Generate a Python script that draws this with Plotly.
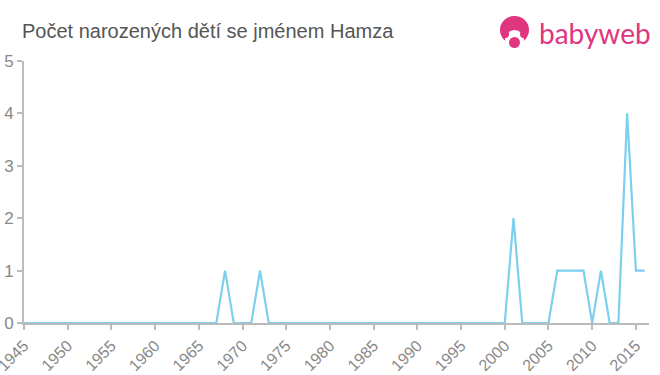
import plotly.graph_objects as go

years = list(range(1945, 2017))
counts_nonzero = {1968: 1, 1972: 1, 2001: 2, 2006: 1, 2007: 1, 2008: 1, 2009: 1,
                  2011: 1, 2014: 4, 2015: 1, 2016: 1}
counts = [counts_nonzero.get(y, 0) for y in years]
x_ticks = list(range(1945, 2016, 5))
y_ticks = [0, 1, 2, 3, 4, 5]
title_text = "Počet narozených dětí se jménem Hamza"
logo_text = "babyweb"

W, H = 660, 375
L, R, T, B = 24, 11, 61, 52
pw, ph = W - L - R, H - T - B


def px(x):
    return (x - L) / pw


def py(y):
    return (H - B - y) / ph


fig = go.Figure()
fig.add_trace(go.Scatter(x=years, y=counts, mode="lines",
                         line=dict(color="#7ccfed", width=2.2),
                         hoverinfo="x+y", showlegend=False))

pink = "#e0357f"
shapes = [
    dict(type="circle", xref="paper", yref="paper", x0=px(500), x1=px(529), y0=py(16), y1=py(44),
         fillcolor=pink, line=dict(width=0)),
    dict(type="circle", xref="paper", yref="paper", x0=px(505), x1=px(524), y0=py(30), y1=py(49),
         fillcolor="white", line=dict(width=0)),
    dict(type="circle", xref="paper", yref="paper", x0=px(502), x1=px(509), y0=py(30), y1=py(38),
         fillcolor=pink, line=dict(width=0)),
    dict(type="circle", xref="paper", yref="paper", x0=px(520), x1=px(527), y0=py(30), y1=py(38),
         fillcolor=pink, line=dict(width=0)),
    dict(type="circle", xref="paper", yref="paper", x0=px(509), x1=px(520), y0=py(37), y1=py(48),
         fillcolor=pink, line=dict(width=0)),
]

fig.update_layout(
    width=W, height=H,
    margin=dict(l=L, r=R, t=T, b=B, autoexpand=False),
    paper_bgcolor="white", plot_bgcolor="white",
    font=dict(family="Liberation Sans, Arial, sans-serif", color="#888888"),
    shapes=shapes,
    annotations=[
        dict(text=title_text, xref="paper", yref="paper", x=px(20), y=py(31),
             xanchor="left", yanchor="middle", showarrow=False,
             font=dict(size=20, color="#555555", family="Liberation Sans, Arial, sans-serif")),
        dict(text=logo_text, xref="paper", yref="paper", x=px(537), y=py(33),
             xanchor="left", yanchor="middle", showarrow=False,
             font=dict(size=28, color=pink, family="Lato, Open Sans, sans-serif")),
    ],
    xaxis=dict(range=[1945, 2016.5], tickmode="array", tickvals=x_ticks,
               ticktext=[str(t) for t in x_ticks], tickangle=-45, automargin=False,
               ticklabeloverflow="allow",
               showgrid=False, zeroline=False, showline=True, linecolor="#bbbbbb", linewidth=2,
               ticks="outside", ticklen=5, tickcolor="#bbbbbb", tickwidth=2,
               tickfont=dict(size=16, color="#888888")),
    yaxis=dict(range=[0, 5], tickmode="array", tickvals=y_ticks, automargin=False,
               ticklabeloverflow="allow",
               showgrid=False, zeroline=False, showline=True, linecolor="#bbbbbb", linewidth=2,
               ticks="outside", ticklen=5, tickcolor="#bbbbbb", tickwidth=2,
               tickfont=dict(size=17, color="#888888")),
)

fig.write_html("out.html")
